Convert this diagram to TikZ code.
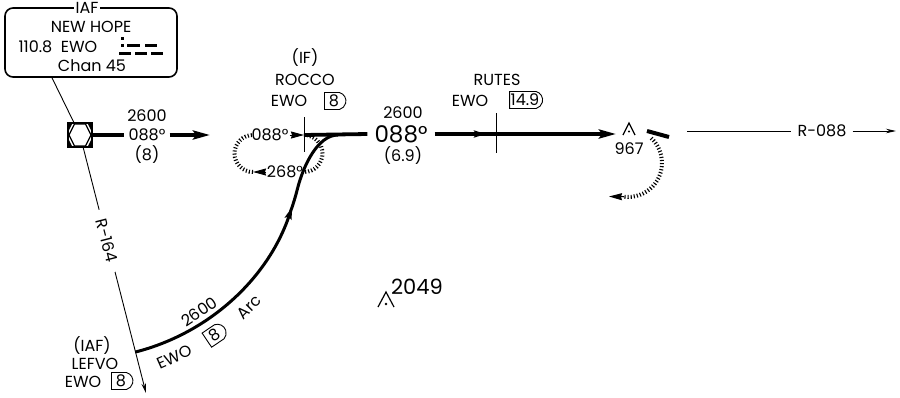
\documentclass[tikz,border=0pt]{standalone}
\usepackage{fontspec}
\setmainfont{Poppins}
\usetikzlibrary{arrows.meta,calc,shapes.misc}
\tikzset{
  crs/.style={line width=3.8pt},
  arcln/.style={line width=3pt},
  rad/.style={line width=0.9pt},
  hatch/.style={line width=4pt, dash pattern=on 1.1pt off 2pt},
  dmebox/.style={draw, line width=0.9pt, rounded rectangle, rounded rectangle west arc=none,
    rounded rectangle arc length=150, minimum height=17pt, inner xsep=4.5pt, inner ysep=0pt},
  bigtip/.style={-{Stealth[length=17pt,width=9pt,inset=3pt]}},
  midtip/.style={-{Stealth[length=12pt,width=7pt,inset=2pt]}},
  holdtip/.style={-{Stealth[length=13pt,width=7pt,inset=1pt]}},
  smalltip/.style={-{Stealth[length=10pt,width=4.5pt]}},
}
\begin{document}
\begin{tikzpicture}[x=1pt,y=-1pt,font=\fontsize{16}{18}\selectfont]
\useasboundingbox (0,0) rectangle (900,397);

\node[draw,line width=1.6pt,rounded corners=8pt,minimum width=172pt,minimum height=69pt] (nhbox) at (91,42.5) {};
\node[fill=white,inner sep=2pt] (iaf) at (87,8) {IAF};
\node (nhname) at (91,27) {NEW HOPE};
\node[anchor=west] (nhfreq) at (15,47) {110.8\ \ EWO};
\node (nhchan) at (92,66) {Chan 45};
\fill (120.5,36.5) rectangle ++(3,3);
\fill (120.5,43.5) rectangle ++(3,3);
\foreach \a/\b in {127/140,145/157}
{
    \fill (\a,43.5) rectangle (\b,46.5);
}
\foreach \a/\b in {119/131,135/147,151/163}
{
    \fill (\a,51.5) rectangle (\b,54.5);
}

\coordinate (vorc) at (80,135);
\coordinate (r164end) at (146,393);
\draw[rad] ([xshift=-39pt]nhbox.south) -- (vorc);
\draw[rad,smalltip] (vorc) -- node[pos=0.41,fill=white,rotate=-75.6,inner xsep=10pt,inner ysep=1pt] (r164) {R-164} (r164end);
\node[draw,fill=white,line width=2pt,minimum size=24pt,inner sep=0pt] (vor) at (vorc) {};
\draw[line width=1.3pt,shift={(vorc)}] (-11,0) -- (-5.5,-11) -- (5.5,-11) -- (11,0) -- (5.5,11) -- (-5.5,11) -- cycle;
\foreach \sx in {-1,1}
{
    \foreach \sy in {-1,1}
    {
        \fill[shift={(vorc)}] (\sx*11,\sy*11) -- (\sx*8,\sy*11) -- (\sx*11,\sy*5) -- cycle;
    }
}

\node[inner xsep=4pt] (c1crs) at (147,135) {088°};
\node (c1alt) at (147,116) {2600};
\node (c1dist) at (147,155) {(8)};
\coordinate (c1end) at (210,135);
\draw[crs] (vor.east) -- (c1crs.west);
\draw[crs,bigtip] (c1crs.east) -- (c1end);

\coordinate (rocco) at (304,135);
\draw[rad] (304,117) -- (304,152);
\node (rcif) at (305,58) {(IF)};
\node (rcname) at (305,80) {ROCCO};
\node (rcewo) at (289,101) {EWO};
\node[dmebox] (rcdme) at (334,101) {8};
\node[inner sep=1pt] (hin) at (270,135) {088°};
\node[inner sep=1pt] (hout) at (285,172) {268°};
\coordinate (hleft) at (253,172);
\draw[line width=1pt,holdtip] (hin.east) -- (rocco);
\draw[line width=1pt,holdtip] (hout.west) -- (hleft);
\draw[hatch] (hleft) arc[start angle=90,end angle=270,radius=18.5];
\draw[hatch] (rocco) arc[start angle=-90,end angle=90,radius=18.5];

\coordinate (lefvo) at ($(vorc)+(75.65:224)$);
\coordinate (arcmid) at ($(vorc)+(20:224)$);
\coordinate (join) at (338,135);
\draw[arcln,midtip] (lefvo) arc[start angle=75.65,end angle=18.8,radius=224];
\draw[arcln] (arcmid) arc[start angle=20,end angle=14,radius=224] .. controls +(6,-24) and +(-20,0) .. (join);
\node[rotate=34] (arcalt) at ($(vorc)+(56:213)$) {2600};
\node[rotate=24] (arcewo) at ($(vorc)+(67:241)$) {EWO};
\node[dmebox,rotate=34] (arcdme) at ($(vorc)+(56:241)$) {8};
\node[rotate=45] (arcword) at ($(vorc)+(45.5:241)$) {Arc};

\node[font=\fontsize{23}{23}\selectfont,inner xsep=7pt] (c2crs) at (401,134) {088°};
\node (c2alt) at (403,113) {2600};
\node (c2dist) at (403,156) {(6.9)};
\coordinate (rutmid) at (486,134);
\coordinate (c2end) at (616,134);
\draw[crs] (rocco) -- (c2crs.west);
\draw[crs,midtip] (c2crs.east) -- (rutmid);
\draw[crs,bigtip] ([xshift=-6pt]rutmid) -- (c2end);

\draw[rad] (496,113) -- (496,153);
\node (rtname) at (497,80) {RUTES};
\node (rtewo) at (470,101) {EWO};
\node[dmebox,inner xsep=1pt] (rtdme) at (525,100) {14.9};

\draw[line width=1.2pt] (623,135) -- (629,123) -- (635,135);
\fill (629,131.5) circle (1.2);
\node (e967) at (629,149) {967};
\draw[line width=4pt] (647,131) -- (669,137);
\coordinate (c967) at (628,163);
\draw[hatch] (c967) ++(-47:34) arc[start angle=-47,end angle=97,radius=34];
\draw[line width=1pt,holdtip] ($(c967)+(97:34)$) -- (609,196.5);

\node[inner xsep=6pt] (r088) at (822,131) {R-088};
\coordinate (r088beg) at (687,131);
\coordinate (r088end) at (896,131);
\draw[rad] (r088beg) -- (r088.west);
\draw[rad,smalltip] (r088.east) -- (r088end);

\draw[line width=1.2pt] (378,307) -- (386,292) -- (394,307);
\fill (386,304) circle (1.3);
\node[font=\fontsize{21}{21}\selectfont] (e2049) at (417,287) {2049};

\node (lfiaf) at (92,346) {(IAF)};
\node (lfname) at (95,364) {LEFVO};
\node (lfewo) at (83,382) {EWO};
\node[dmebox] (lfdme) at (121,381) {8};
\end{tikzpicture}
\end{document}
